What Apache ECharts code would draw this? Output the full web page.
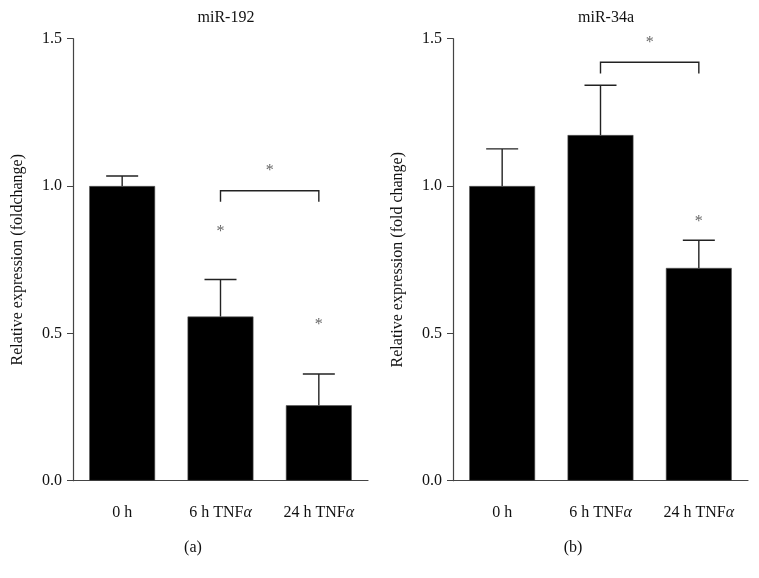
<!DOCTYPE html>
<html><head><meta charset="utf-8">
<script src="https://cdn.jsdelivr.net/npm/echarts@6/dist/echarts.min.js"></script>
<style>html,body{margin:0;padding:0;background:#fff}#c{width:759px;height:578px}</style>
</head><body><div id="c"></div>
<script>
var categories = ['0 h', '6 h TNFα', '24 h TNFα'];
var titlesA = 'miR-192', titleB = 'miR-34a';
var yNameA = 'Relative expression (foldchange)';
var yNameB = 'Relative expression (fold change)';
var panelLabels = ['(a)', '(b)'];
var yTicks = [0, 0.5, 1.0, 1.5];

var meanA = [1.0, 0.557, 0.256];
var errTopA = [1.034, 0.683, 0.362];
var meanB = [1.0, 1.173, 0.722];
var errTopB = [1.126, 1.342, 0.816];

// brackets: [fromCat, toCat, barY, tickBottomY]
var bracketA = [[1, 2, 0.984, 0.947]];
var bracketB = [[1, 2, 1.42, 1.382]];
// asterisks: [fromCat, toCat, y] (placed at midpoint)
var starsA = [[1, 1, 0.845], [2, 2, 0.53], [1, 2, 1.052]];
var starsB = [[2, 2, 0.878], [1, 2, 1.485]];

var FONT = 'Liberation Serif';
var AXC = '#444';
var FS = 16;

function errItem(params, api) {
  var x = api.value(0);
  var p0 = api.coord([x, api.value(1)]);
  var p1 = api.coord([x, api.value(2)]);
  var hw = 16;
  return {type: 'group', children: [
    {type: 'line', shape: {x1: p0[0], y1: p0[1], x2: p1[0], y2: p1[1]}, style: {stroke: '#222', lineWidth: 1.4}},
    {type: 'line', shape: {x1: p1[0] - hw, y1: p1[1], x2: p1[0] + hw, y2: p1[1]}, style: {stroke: '#222', lineWidth: 1.4}}
  ]};
}
function bracketItem(params, api) {
  var a = api.coord([api.value(0), api.value(2)]);
  var b = api.coord([api.value(1), api.value(2)]);
  var yb = api.coord([api.value(0), api.value(3)])[1];
  return {type: 'polyline', shape: {points: [[a[0], yb], [a[0], a[1]], [b[0], b[1]], [b[0], yb]]},
    style: {stroke: '#222', lineWidth: 1.4, fill: null}};
}
function starItem(params, api) {
  var a = api.coord([api.value(0), api.value(2)]);
  var b = api.coord([api.value(1), api.value(2)]);
  return {type: 'text', style: {text: '*', x: (a[0] + b[0]) / 2, y: a[1], align: 'center', verticalAlign: 'middle',
    fontFamily: FONT, fontSize: 16, fill: '#666'}};
}
function errData(mean, top) { return mean.map(function (m, i) { return [i, m, top[i]]; }); }

function xAxis(gi) {
  return {type: 'category', gridIndex: gi, data: categories,
    axisLine: {lineStyle: {color: AXC, width: 1.2}},
    axisTick: {alignWithLabel: true, length: 6, lineStyle: {color: AXC}},
    axisLabel: {interval: 0, margin: 24, fontFamily: FONT, fontSize: FS, color: '#111',
      formatter: function (v) { return v.replace('α', '{a|α}'); },
      rich: {a: {fontStyle: 'italic', fontFamily: FONT, fontSize: FS, color: '#111'}}}};
}
function yAxis(gi, name) {
  return {type: 'value', gridIndex: gi, min: 0, max: 1.5, interval: 0.5, name: name,
    nameLocation: 'middle', nameGap: 47, nameTextStyle: {fontFamily: FONT, fontSize: FS, color: '#111'},
    axisLine: {show: true, lineStyle: {color: AXC, width: 1.2}},
    axisTick: {show: true, length: 6, lineStyle: {color: AXC}},
    splitLine: {show: false},
    axisLabel: {margin: 11, fontFamily: FONT, fontSize: FS, color: '#111',
      formatter: function (v) { return v.toFixed(1); }}};
}
function barSeries(gi, data) {
  return {type: 'bar', xAxisIndex: gi, yAxisIndex: gi, data: data, barWidth: '67%',
    itemStyle: {color: '#000', borderColor: '#555', borderWidth: 0.6}, z: 2};
}
function custom(gi, fn, data) {
  return {type: 'custom', xAxisIndex: gi, yAxisIndex: gi, renderItem: fn, data: data, z: 3, silent: true};
}

var tstyle = {fontFamily: FONT, fontSize: FS, fontWeight: 'normal', color: '#111'};
var chart = echarts.init(document.getElementById('c'), null, {renderer: 'canvas'});
chart.setOption({
  backgroundColor: '#fff',
  animation: false,
  title: [
    {text: titlesA, left: 221, top: 5, textAlign: 'center', textStyle: tstyle},
    {text: titleB, left: 601, top: 5, textAlign: 'center', textStyle: tstyle},
    {text: panelLabels[0], left: 188, top: 535, textAlign: 'center', textStyle: tstyle},
    {text: panelLabels[1], left: 568, top: 535, textAlign: 'center', textStyle: tstyle}
  ],
  grid: [
    {left: 73, top: 38.7, width: 295, height: 442},
    {left: 453, top: 38.7, width: 295, height: 442}
  ],
  xAxis: [xAxis(0), xAxis(1)],
  yAxis: [yAxis(0, yNameA), yAxis(1, yNameB)],
  series: [
    barSeries(0, meanA), barSeries(1, meanB),
    custom(0, errItem, errData(meanA, errTopA)), custom(1, errItem, errData(meanB, errTopB)),
    custom(0, bracketItem, bracketA), custom(1, bracketItem, bracketB),
    custom(0, starItem, starsA), custom(1, starItem, starsB)
  ]
});
</script></body></html>
